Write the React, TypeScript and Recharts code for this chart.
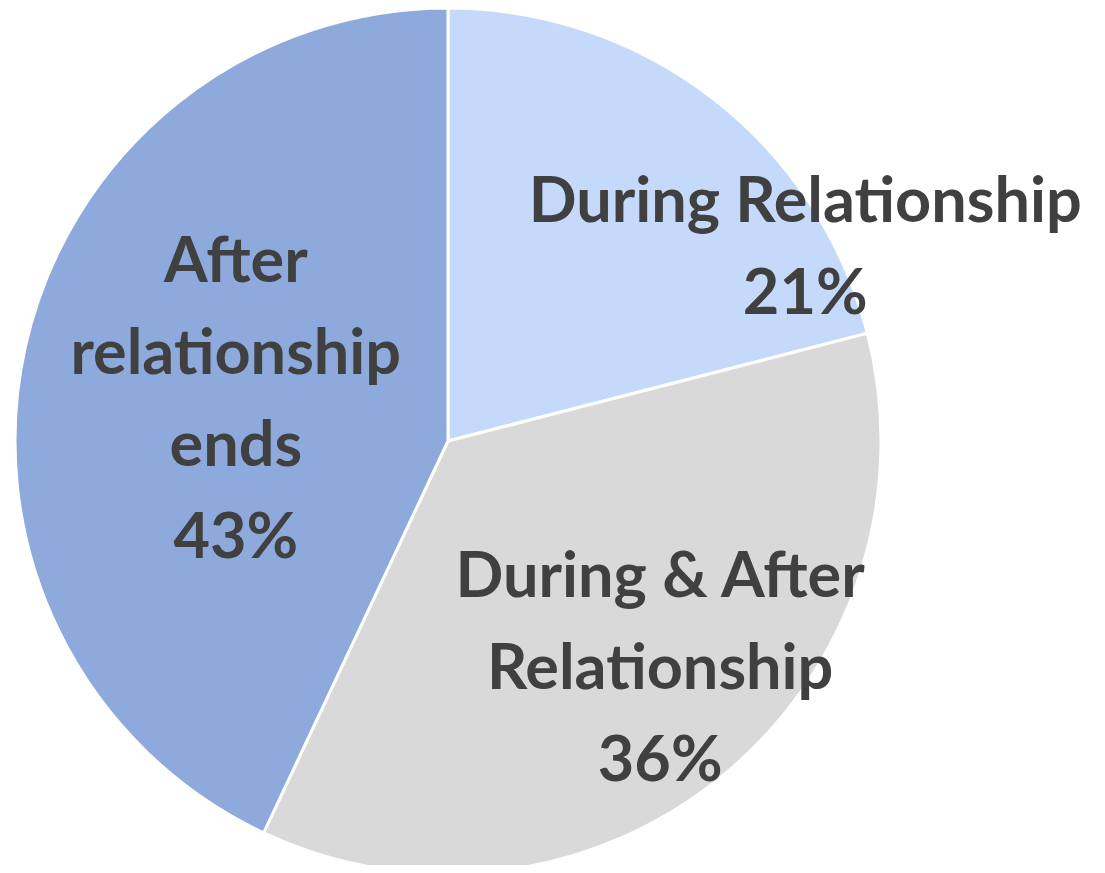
import { Cell, Pie, PieChart } from "recharts";

const categories = ["During Relationship", "During & After Relationship", "After relationship ends"];
const labelLines = [["During Relationship"], ["During & After", "Relationship"], ["After", "relationship", "ends"]];
const values = [21, 36, 43];
const colors = ["#C5DAFA", "#D9D9D9", "#8EAADC"];

// label block anchor, as a fraction of the radius from the center (first baseline)
const LABEL_OFFSETS = [
  { dx: 0.825, dy: -0.506 },
  { dx: 0.49, dy: 0.36 },
  { dx: -0.49, dy: -0.367 },
];

const data = categories.map((name, i) => ({ name, value: values[i] }));

const FONT_SIZE = 63;
const LINE_HEIGHT = 92;

function renderLabel(props: any) {
  const { cx, cy, outerRadius, index, value } = props;
  const off = LABEL_OFFSETS[index];
  const x = cx + off.dx * outerRadius;
  const y = cy + off.dy * outerRadius;
  const lines = [...labelLines[index], `${value}%`];
  return (
    <text
      x={x}
      y={y}
      textAnchor="middle"
      fill="#404040"
      fontFamily="Lato, 'Open Sans', sans-serif"
      fontWeight={700}
      fontSize={FONT_SIZE}
    >
      {lines.map((line, i) => (
        <tspan key={i} x={x} y={y + i * LINE_HEIGHT}>
          {line}
        </tspan>
      ))}
    </text>
  );
}

export default function App() {
  return (
    <div style={{ margin: -8, width: 1105, height: 873, background: "#fff" }}>
      <PieChart width={1105} height={873} margin={{ top: 0, right: 0, bottom: 0, left: 0 }}>
        <Pie
          data={data}
          dataKey="value"
          nameKey="name"
          cx={448}
          cy={441}
          outerRadius={433}
          startAngle={90}
          endAngle={-270}
          stroke="#ffffff"
          strokeWidth={3}
          label={renderLabel}
          labelLine={false}
          isAnimationActive={false}
        >
          {data.map((d, i) => (
            <Cell key={d.name} fill={colors[i]} />
          ))}
        </Pie>
      </PieChart>
    </div>
  );
}
